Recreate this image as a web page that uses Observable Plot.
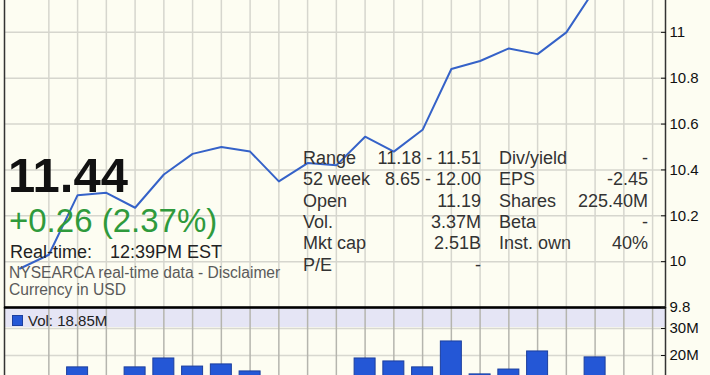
<!DOCTYPE html>
<html>
<head>
<meta charset="utf-8">
<script src="https://cdn.jsdelivr.net/npm/d3@7"></script>
<script src="https://cdn.jsdelivr.net/npm/@observablehq/plot@0.6"></script>
<style>
  html, body { margin: 0; padding: 0; background: #fdfdf2; }
  #wrap { position: relative; width: 710px; height: 375px; overflow: hidden; background: #fdfdf2;
          font-family: "Liberation Sans", Arial, sans-serif; }
  .abs { position: absolute; white-space: pre; }
  .abs svg { display: block; }
</style>
</head>
<body>
<div id="wrap"></div>
<script>
// ---- data ----
const priceIndex = [0,1,2,3,4,5,6,7,8,9,10,11,12,13,14,15,16,17,18,19,20];
const priceValues = [9.97, 10.03, 10.29, 10.30, 10.235, 10.38, 10.47, 10.50, 10.48, 10.35, 10.43, 10.42, 10.545, 10.48, 10.575, 10.84, 10.875, 10.93, 10.905, 11.00, 11.19];
const volumeValuesM = [11, 12, 15.6, 12, 15.6, 18.9, 15.9, 16.7, 14.1, 11.5, 12, 12, 18.9, 17.8, 15.6, 25.2, 13.0, 14.8, 21.5, 12, 19.3];
const gridIndex = [1,2,3,4,5,6,7,8,9,10,11,12,13,14,15,16,17,18,19,20,21,22];
const priceTicks = [9.8, 10, 10.2, 10.4, 10.6, 10.8, 11];
const priceTickLabels = ["9.8", "10", "10.2", "10.4", "10.6", "10.8", "11"];
const volumeTicks = [20e6, 30e6];
const volumeTickLabels = ["20M", "30M"];

const lastPrice = "11.44";
const change = "+0.26 (2.37%)";
const realTimeLabel = "Real-time:";
const realTimeValue = "12:39PM EST";
const sourceNote = "NYSEARCA real-time data - Disclaimer";
const currencyNote = "Currency in USD";
const volLegend = "Vol: 18.85M";
const statLabels1 = ["Range", "52 week", "Open", "Vol.", "Mkt cap", "P/E"];
const statValues1 = ["11.18 - 11.51", "8.65 - 12.00", "11.19", "3.37M", "2.51B", "-"];
const statLabels2 = ["Div/yield", "EPS", "Shares", "Beta", "Inst. own"];
const statValues2 = ["-", "-2.45", "225.40M", "-", "40%"];

const price = priceIndex.map((i, k) => ({i, v: priceValues[k]}));
const volume = priceIndex.map((i, k) => ({i, v: volumeValuesM[k] * 1e6}));

const wrap = document.getElementById("wrap");
function place(el, top, left) {
  const d = document.createElement("div");
  d.className = "abs";
  d.style.top = top + "px";
  d.style.left = left + "px";
  d.appendChild(el);
  wrap.appendChild(d);
  return d;
}
function text(str, baseline, opts) {
  const size = opts.size;
  const d = document.createElement("div");
  d.className = "abs";
  d.textContent = str;
  d.style.fontSize = size + "px";
  d.style.lineHeight = size + "px";
  d.style.top = (baseline - 0.8465 * size) + "px";
  if (opts.right != null) { d.style.right = (710 - opts.right) + "px"; d.style.textAlign = "right"; }
  else d.style.left = opts.left + "px";
  d.style.color = opts.color || "#222";
  if (opts.bold) d.style.fontWeight = "bold";
  wrap.appendChild(d);
  return d;
}

const xScale = {domain: [0, 22], range: [19.6, 652.1]};
const baseStyle = {background: "transparent", color: "#111", fontFamily: "Liberation Sans, Arial, sans-serif", fontSize: "15px", overflow: "hidden"};

// ---- volume band (legend strip) ----
const band = document.createElement("div");
band.className = "abs";
Object.assign(band.style, {top: "308px", left: "5px", width: "660px", height: "19px", background: "#e5e5f5"});
wrap.appendChild(band);

// ---- volume panel ----
const volPlot = Plot.plot({
  width: 710, height: 68,
  marginLeft: 4, marginRight: 45, marginTop: 0, marginBottom: 0,
  style: baseStyle,
  x: {...xScale, axis: null},
  y: {domain: [0, 30e6], range: [102, 21], axis: null},
  marks: [
    Plot.gridY(volumeTicks, {stroke: "#d8d8d0", strokeOpacity: 1, strokeWidth: 1.5}),
    Plot.gridX(gridIndex, {stroke: "#b5b5ae", strokeOpacity: 1, strokeWidth: 1.5}),
    Plot.rectY(volume, {x1: d => d.i - 0.365, x2: d => d.i + 0.365, y1: 0, y2: "v", fill: "#2457d6", stroke: "#1c3f9e", strokeWidth: 1, clip: true}),
    Plot.axisY(volumeTicks, {anchor: "right", label: null, tickSize: -5, tickPadding: 9, tickFormat: d => volumeTickLabels[volumeTicks.indexOf(d)], fontSize: 15}),
    Plot.frame({stroke: "#333", strokeWidth: 1.5, insetTop: -4, insetBottom: -4})
  ]
});
place(volPlot, 307, 0);

// ---- price panel ----
const pricePlot = Plot.plot({
  width: 710, height: 325,
  marginLeft: 4, marginRight: 45, marginTop: 0, marginBottom: 18,
  style: baseStyle,
  x: {...xScale, axis: null},
  y: {domain: [9.8, 11.2], range: [307, -14], axis: null},
  marks: [
    Plot.gridY(priceTicks.slice(1), {stroke: "#d6d6ce", strokeOpacity: 1, strokeWidth: 1.5}),
    Plot.gridX(gridIndex, {stroke: "#d6d6ce", strokeOpacity: 1, strokeWidth: 1.5}),
    Plot.line(price, {x: "i", y: "v", stroke: "#3562c8", strokeWidth: 2, clip: true}),
    Plot.frame({stroke: "#333", strokeWidth: 1.5, insetTop: -4}),
    Plot.ruleY([9.8], {stroke: "#000", strokeWidth: 2.5}),
    Plot.axisY(priceTicks, {anchor: "right", label: null, tickSize: -5, tickPadding: 9, tickFormat: d => priceTickLabels[priceTicks.indexOf(d)], fontSize: 15})
  ]
});
place(pricePlot, 0, 0);

// ---- overlay texts ----
text(lastPrice, 192, {left: 8, size: 49, bold: true, color: "#111"});
text(change, 232, {left: 9, size: 33, color: "#2f9a3c"});
text(realTimeLabel, 258, {left: 10, size: 18, color: "#222"});
text(realTimeValue, 258, {left: 110, size: 18, color: "#222"});
text(sourceNote, 278, {left: 9, size: 15.6, color: "#5a5a5a"});
text(currencyNote, 295, {left: 9, size: 15.6, color: "#5a5a5a"});

statLabels1.forEach((s, k) => text(s, 164 + k * 21.4, {left: 303, size: 18, color: "#333"}));
statValues1.forEach((s, k) => text(s, 164 + k * 21.4, {right: 481, size: 18, color: "#333"}));
statLabels2.forEach((s, k) => text(s, 164 + k * 21.4, {left: 499, size: 18, color: "#333"}));
statValues2.forEach((s, k) => text(s, 164 + k * 21.4, {right: 648, size: 18, color: "#333"}));

// volume legend
const sq = document.createElement("div");
sq.className = "abs";
Object.assign(sq.style, {top: "315px", left: "12px", width: "9px", height: "9px", background: "#2457d6", border: "1px solid #1c3f9e"});
wrap.appendChild(sq);
text(volLegend, 326, {left: 28, size: 15, color: "#222"});
</script>
</body>
</html>
